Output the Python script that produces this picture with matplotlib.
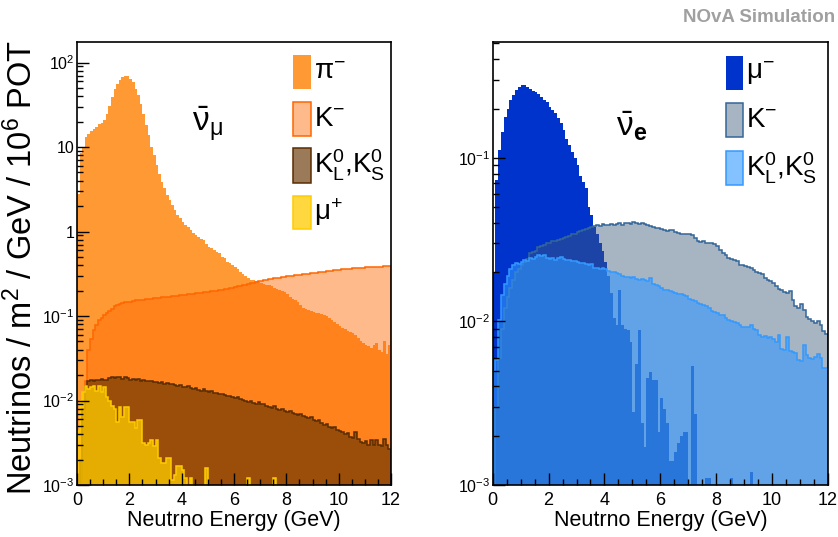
import numpy as np
import matplotlib
matplotlib.use("Agg")
import matplotlib.pyplot as plt
from matplotlib.patches import Rectangle
from matplotlib.ticker import FixedLocator, FixedFormatter, LogLocator, MultipleLocator, NullFormatter

plt.rcParams['font.family'] = ['Liberation Sans', 'DejaVu Sans']
plt.rcParams['mathtext.fontset'] = 'custom'
plt.rcParams['mathtext.rm'] = 'Liberation Sans'
plt.rcParams['mathtext.it'] = 'Liberation Sans:italic'
plt.rcParams['mathtext.bf'] = 'Liberation Sans:bold'

# ---------------- data (0.1 GeV bins, 0-12 GeV) ----------------
bin_edges = np.round(np.arange(0, 12.05, 0.1), 2)

# anti-nu_mu parents
numu_pi_minus = [
    2.8, 8.5, 10, 13.2, 14.4, 15.5, 16.5, 17.3, 18.5, 19.5,
    21, 24.9, 31, 39, 49, 56, 62, 67.6, 69.5, 69.5,
    64.6, 59, 49, 41, 32.7, 24.9, 18.2, 13.8, 10, 8,
    6.1, 4.86, 3.86, 3.23, 2.69, 2.35, 2.05, 1.78, 1.56, 1.43,
    1.3, 1.19, 1.13, 1.03, 0.95, 0.9, 0.86, 0.82, 0.79, 0.72,
    0.66, 0.63, 0.6, 0.58, 0.55, 0.50, 0.48, 0.44, 0.42, 0.40,
    0.38, 0.36, 0.33, 0.31, 0.30, 0.28, 0.27, 0.265, 0.26, 0.25,
    0.245, 0.24, 0.235, 0.23, 0.225, 0.215, 0.21, 0.205, 0.2, 0.19,
    0.18, 0.17, 0.16, 0.155, 0.145, 0.135, 0.125, 0.12, 0.118, 0.115,
    0.112, 0.11, 0.108, 0.105, 0.103, 0.1, 0.095, 0.09, 0.085, 0.08,
    0.076, 0.072, 0.07, 0.067, 0.065, 0.063, 0.06, 0.055, 0.05, 0.048,
    0.046, 0.044, 0.042, 0.045, 0.048, 0.04, 0.038, 0.05, 0.036, 0.045]

numu_k_minus = [
    0, 0, 0.006, 0.017, 0.04, 0.054, 0.068, 0.078, 0.089, 0.095,
    0.102, 0.108, 0.115, 0.12, 0.13, 0.135, 0.14, 0.143, 0.145, 0.147,
    0.148, 0.151, 0.153, 0.154, 0.155, 0.156, 0.158, 0.16, 0.161, 0.162,
    0.163, 0.165, 0.166, 0.167, 0.168, 0.17, 0.171, 0.173, 0.174, 0.175,
    0.177, 0.178, 0.18, 0.181, 0.183, 0.185, 0.187, 0.188, 0.19, 0.192,
    0.194, 0.196, 0.198, 0.2, 0.202, 0.205, 0.207, 0.21, 0.213, 0.216,
    0.22, 0.224, 0.228, 0.232, 0.236, 0.24, 0.244, 0.248, 0.253, 0.258,
    0.262, 0.266, 0.27, 0.273, 0.276, 0.279, 0.282, 0.285, 0.288, 0.291,
    0.294, 0.297, 0.3, 0.303, 0.306, 0.309, 0.312, 0.315, 0.318, 0.321,
    0.324, 0.327, 0.33, 0.333, 0.336, 0.339, 0.342, 0.345, 0.348, 0.351,
    0.354, 0.357, 0.36, 0.362, 0.364, 0.366, 0.368, 0.37, 0.372, 0.374,
    0.376, 0.378, 0.38, 0.382, 0.383, 0.384, 0.385, 0.386, 0.387, 0.388]

numu_k0 = [
    0, 0.002, 0.008, 0.015, 0.0168, 0.0173, 0.0172, 0.0176, 0.0175, 0.0178,
    0.0175, 0.0177, 0.0186, 0.0188, 0.0185, 0.019, 0.0188, 0.018, 0.019, 0.0185,
    0.0175, 0.018, 0.0176, 0.0182, 0.0172, 0.0175, 0.017, 0.0168, 0.0172, 0.0165,
    0.0167, 0.016, 0.0164, 0.0158, 0.016, 0.0155, 0.0158, 0.0152, 0.0149, 0.0153,
    0.0146, 0.0144, 0.0147, 0.014, 0.0138, 0.0141, 0.0134, 0.0131, 0.0135, 0.0128,
    0.0126, 0.0129, 0.0122, 0.0124, 0.0119, 0.012, 0.0116, 0.0113, 0.0114, 0.011,
    0.0108, 0.0111, 0.0104, 0.0101, 0.0098, 0.0096, 0.0099, 0.0094, 0.0092, 0.0095,
    0.009, 0.0092, 0.0086, 0.0084, 0.0082, 0.0085, 0.0079, 0.0077, 0.0079, 0.0075,
    0.0073, 0.0075, 0.0071, 0.0069, 0.0068, 0.007, 0.0065, 0.0063, 0.0062, 0.0064,
    0.0059, 0.0057, 0.0058, 0.0054, 0.0052, 0.0053, 0.0049, 0.0047, 0.0048, 0.0045,
    0.0044, 0.0042, 0.004, 0.0041, 0.0037, 0.0036, 0.0042, 0.0035, 0.0032, 0.0031,
    0.0033, 0.003, 0.0034, 0.003, 0.0034, 0.003, 0.0029, 0.0035, 0.003, 0.0027]

numu_mu_plus = [
    0.0043, 0.01, 0.0126, 0.015, 0.0138, 0.0145, 0.015, 0.013, 0.015, 0.0126,
    0.0145, 0.011, 0.01, 0.0087, 0.008, 0.0056, 0.0083, 0.0064, 0.0083, 0.0083,
    0.0055, 0.0055, 0.0047, 0.0058, 0.0058, 0.0031, 0.003, 0.0031, 0.0034, 0.0029,
    0.0034, 0.0021, 0.0018, 0.0018, 0.0021, 0.0021, 0.00115, 0.0013, 0.0017, 0.0017,
    0.0015, 0.0012, 0, 0.0012, 0, 0, 0, 0, 0, 0.0016,
    0, 0, 0, 0, 0, 0, 0, 0, 0, 0,
    0, 0, 0, 0, 0, 0.0012, 0, 0, 0, 0,
    0, 0, 0, 0, 0, 0.0012, 0, 0, 0, 0,
    0, 0, 0, 0, 0, 0, 0, 0, 0, 0,
    0, 0, 0, 0, 0, 0, 0, 0, 0, 0,
    0, 0, 0, 0, 0, 0, 0, 0, 0, 0,
    0, 0, 0, 0, 0, 0, 0, 0, 0, 0]

# anti-nu_e parents
nue_mu_minus = [
    0.02, 0.073, 0.111, 0.144, 0.178, 0.2, 0.225, 0.242, 0.26, 0.27,
    0.277, 0.277, 0.27, 0.263, 0.257, 0.252, 0.245, 0.236, 0.225, 0.218,
    0.205, 0.196, 0.187, 0.174, 0.162, 0.148, 0.131, 0.12, 0.109, 0.1,
    0.09, 0.077, 0.071, 0.065, 0.05, 0.0446, 0.038, 0.034, 0.030, 0.027,
    0.023, 0.019, 0.015, 0.0105, 0.0095, 0.0155, 0.0095, 0.009, 0.0088, 0.0075,
    0.0028, 0.0055, 0.0088, 0.0024, 0.0017, 0.0045, 0.0049, 0.0044, 0.0044, 0.0021,
    0.0034, 0.0029, 0.0024, 0.0014, 0.0014, 0.0016, 0.0018, 0.002, 0.0021, 0.0021,
    0, 0.0053, 0.0027, 0, 0, 0, 0.0011, 0.0011, 0, 0,
    0, 0, 0, 0, 0, 0.0011, 0, 0, 0, 0,
    0, 0, 0.0012, 0, 0, 0, 0, 0, 0, 0,
    0, 0, 0, 0, 0, 0, 0, 0, 0, 0,
    0, 0, 0, 0, 0, 0, 0, 0, 0, 0]

nue_k_minus = [
    0, 0.003, 0.006, 0.009, 0.012, 0.014, 0.016, 0.018, 0.02, 0.021,
    0.022, 0.023, 0.024, 0.026, 0.0265, 0.027, 0.0285, 0.029, 0.0293, 0.03,
    0.0302, 0.0308, 0.031, 0.0313, 0.032, 0.0325, 0.033, 0.0333, 0.034, 0.0344,
    0.035, 0.0356, 0.036, 0.0365, 0.037, 0.0375, 0.0382, 0.039, 0.0385, 0.0392,
    0.0388, 0.039, 0.0395, 0.0387, 0.0393, 0.0398, 0.039, 0.04, 0.0402, 0.0395,
    0.0405, 0.04, 0.0392, 0.04, 0.0395, 0.039, 0.0385, 0.0378, 0.037, 0.0372,
    0.0365, 0.036, 0.0357, 0.0362, 0.036, 0.0352, 0.0346, 0.0344, 0.034, 0.0342,
    0.034, 0.0335, 0.0322, 0.031, 0.0307, 0.031, 0.0303, 0.03, 0.0302, 0.0296,
    0.029, 0.0275, 0.026, 0.0255, 0.0245, 0.024, 0.0236, 0.0233, 0.0222, 0.022,
    0.0218, 0.0215, 0.0212, 0.0205, 0.02, 0.0198, 0.0196, 0.0185, 0.018, 0.0176,
    0.0172, 0.0165, 0.0158, 0.0155, 0.0152, 0.015, 0.0153, 0.0135, 0.0125, 0.012,
    0.0128, 0.0118, 0.0106, 0.0103, 0.01, 0.0098, 0.0101, 0.0095, 0.0087, 0.0084]

nue_k0 = [
    0.005, 0.0058, 0.0102, 0.0144, 0.017, 0.019, 0.021, 0.022, 0.0228, 0.0225,
    0.0232, 0.0237, 0.0235, 0.0245, 0.0242, 0.0248, 0.0253, 0.025, 0.0255, 0.0245,
    0.024, 0.0244, 0.0238, 0.0245, 0.0248, 0.0242, 0.0236, 0.0238, 0.0234, 0.0235,
    0.0232, 0.0226, 0.0228, 0.0224, 0.0222, 0.0225, 0.0213, 0.0212, 0.021, 0.0211,
    0.0208, 0.0203, 0.0201, 0.0199, 0.0197, 0.0195, 0.019, 0.0188, 0.0187, 0.0185,
    0.0186, 0.0182, 0.018, 0.0181, 0.0178, 0.0177, 0.0183, 0.017, 0.0166, 0.0164,
    0.016, 0.0156, 0.0155, 0.0153, 0.0151, 0.0149, 0.0148, 0.0146, 0.0144, 0.0142,
    0.0137, 0.0135, 0.0134, 0.013, 0.0127, 0.0126, 0.0124, 0.012, 0.0116, 0.0114,
    0.0112, 0.011, 0.0109, 0.0105, 0.0102, 0.01, 0.0099, 0.0098, 0.0095, 0.0093,
    0.0092, 0.0092, 0.0095, 0.009, 0.0089, 0.0082, 0.008, 0.0081, 0.0079, 0.008,
    0.0078, 0.0075, 0.0082, 0.0068, 0.0067, 0.008, 0.0066, 0.0065, 0.0064, 0.0058,
    0.0057, 0.0072, 0.0062, 0.006, 0.0059, 0.0061, 0.0063, 0.006, 0.0052, 0.0052]

numu_labels = [r'$\mathregular{\pi^{-}}$', r'$\mathregular{K^{-}}$',
               r'$\mathregular{K^{0}_{L}{,}K^{0}_{S}}$', r'$\mathregular{\mu^{+}}$']
nue_labels = [r'$\mathregular{\mu^{-}}$', r'$\mathregular{K^{-}}$',
              r'$\mathregular{K^{0}_{L}{,}K^{0}_{S}}$']
y_tick_vals = [1e-3, 1e-2, 1e-1, 1, 10, 100]
y_tick_text = [r'$\mathregular{10^{-3}}$', r'$\mathregular{10^{-2}}$', r'$\mathregular{10^{-1}}$',
               '1', '10', r'$\mathregular{10^{2}}$']
x_tick_vals = [0, 2, 4, 6, 8, 10, 12]

# ---------------- styles ----------------
left_styles = [
    dict(fc='#FF9933', alpha=1.0, ec=None),        # pi-
    dict(fc='#FF6600', alpha=0.45, ec='#FF6600'),  # K-
    dict(fc='#663300', alpha=0.65, ec='#5A2D00'),  # K0
    dict(fc='#FFCC00', alpha=0.75, ec='#FFCC00'),  # mu+
]
right_styles = [
    dict(fc='#0033CC', alpha=1.0, ec=None),        # mu-
    dict(fc='#3C5A78', alpha=0.45, ec='#336699'),  # K-
    dict(fc='#3399FF', alpha=0.6, ec='#3399FF'),   # K0
]

W, H = 838, 537
fig = plt.figure(figsize=(W / 100, H / 100), dpi=100)

def frac_box(x0, x1, y0, y1):
    return [x0 / W, 1 - y1 / H, (x1 - x0) / W, (y1 - y0) / H]

axL = fig.add_axes(frac_box(77, 391, 42, 485))
axR = fig.add_axes(frac_box(492.7, 828, 42, 485))

def draw(ax, series, styles, ylim):
    for vals, st in zip(series, styles):
        v = np.clip(np.asarray(vals, float), 1e-7, None)
        ax.stairs(v, bin_edges, baseline=1e-7, fill=True, facecolor=st['fc'],
                  alpha=st['alpha'], edgecolor='none', linewidth=0)
        if st['ec'] is not None:
            ax.stairs(v, bin_edges, baseline=1e-7, fill=False, color=st['ec'],
                      linewidth=1.1)
    ax.set_yscale('log')
    ax.set_xlim(0, 12)
    ax.set_ylim(*ylim)
    ax.xaxis.set_major_locator(FixedLocator(x_tick_vals))
    ax.xaxis.set_minor_locator(MultipleLocator(0.5))
    ax.yaxis.set_major_locator(FixedLocator(y_tick_vals))
    ax.yaxis.set_major_formatter(FixedFormatter(y_tick_text))
    ax.yaxis.set_minor_locator(LogLocator(base=10, subs=np.arange(2, 10)))
    ax.yaxis.set_minor_formatter(NullFormatter())
    ax.tick_params(which='both', direction='in', top=False, right=False, width=1.0,
                   color='black')
    ax.tick_params(which='major', length=8.5)
    ax.tick_params(which='minor', length=4.5)
    ax.tick_params(axis='x', labelsize=13, pad=5)
    ax.tick_params(axis='y', labelsize=11.5, pad=2)
    for s in ax.spines.values():
        s.set_linewidth(1.2)
    ax.set_axisbelow(False)
    ax.set_xlabel('Neutrno Energy (GeV)', fontsize=15.5)
    ax.xaxis.set_label_coords(0.5, -0.056)

draw(axL, [numu_pi_minus, numu_k_minus, numu_k0, numu_mu_plus], left_styles, (1e-3, 175))
draw(axR, [nue_mu_minus, nue_k_minus, nue_k0], right_styles, (1e-3, 0.51))

def legend(ax, x0, x1, px0, boxes, labels, styles, ybot, ytop):
    for (b0, b1), lab, st in zip(boxes, labels, styles):
        xa = (px0[0] - x0) / (x1 - x0)
        xb = (px0[1] - x0) / (x1 - x0)
        ya = (ybot - b1) / (ybot - ytop)
        yb = (ybot - b0) / (ybot - ytop)
        ax.add_patch(Rectangle((xa, ya), xb - xa, yb - ya, transform=ax.transAxes,
                               facecolor=st['fc'], alpha=st['alpha'], edgecolor='none',
                               zorder=5))
        if st['ec'] is not None:
            ax.add_patch(Rectangle((xa, ya), xb - xa, yb - ya, transform=ax.transAxes,
                                   facecolor='none', edgecolor=st['ec'], linewidth=1.1,
                                   zorder=6))
        ax.text(xb + 0.008, (ya + yb) / 2, lab, transform=ax.transAxes, fontsize=20,
                ha='left', va='center', zorder=7)

legend(axL, 77, 391, (293.3, 311), [(55, 89.3), (101.7, 136), (148.3, 182.7), (195.7, 229.3)],
       numu_labels, left_styles, 485, 42)
legend(axR, 492.7, 828, (726, 743.3), [(56, 90), (102.7, 137.3), (150.7, 185.3)],
       nue_labels, right_styles, 485, 42)

axL.text(0.414, 0.815, r'$\bar{\mathregular{\nu}}_{\mathregular{\mu}}$', transform=axL.transAxes,
         fontsize=24, ha='center', va='center')
axR.text(0.415, 0.81, r'$\bar{\mathregular{\nu}}_{\mathbf{e}}$', transform=axR.transAxes,
         fontsize=24, ha='center', va='center')

fig.text(21.5 / W, 1 - 267 / H, r'Neutrinos / m$^{\mathregular{2}}$ / GeV / 10$^{\mathregular{6}}$ POT',
         rotation=90, ha='center', va='center', fontsize=23.5)
fig.text(835 / W, 1 - 17 / H, 'NOvA Simulation', ha='right', va='center',
         fontsize=13.5, fontweight='bold', color='#A0A0A0')

fig.savefig('out.png', dpi=100)
